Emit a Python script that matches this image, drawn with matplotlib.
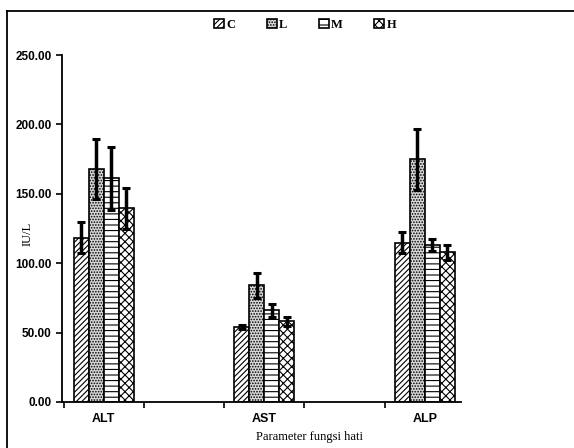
import matplotlib.pyplot as plt
import numpy as np
from matplotlib.lines import Line2D

# dati
parametri = ["ALT", "AST", "ALP"]
gruppi = ["C", "L", "M", "H"]
media_C = [118.4, 53.8, 114.8]
media_L = [167.9, 84.3, 174.8]
media_M = [161.1, 66.0, 113.4]
media_H = [139.5, 58.1, 107.8]
err_C = [11.0, 1.5, 7.7]
err_L = [21.5, 9.0, 22.0]
err_M = [23.0, 4.5, 4.3]
err_H = [15.0, 3.5, 5.3]
y_ticks = [0, 50, 100, 150, 200, 250]

medie = [media_C, media_L, media_M, media_H]
errori = [err_C, err_L, err_M, err_H]
stili = [
    dict(facecolor="white", hatch="//////"),
    dict(facecolor="#d8d8d8", hatch="......"),
    dict(facecolor="white", hatch="---"),
    dict(facecolor="white", hatch="xxxx"),
]

plt.rcParams["hatch.linewidth"] = 0.8

fig = plt.figure(figsize=(5.74, 4.48), dpi=100)
ax = fig.add_axes([0.108, 0.1027, 0.695, 0.7743])

x = np.arange(len(parametri)) * 2.0
width = 0.186
handles = []
for i, (vals, errs, st) in enumerate(zip(medie, errori, stili)):
    pos = x + (i - 1.5) * width
    b = ax.bar(pos, vals, width, edgecolor="black", linewidth=1.2,
               label=gruppi[i], **st)
    ax.errorbar(pos, vals, yerr=errs, fmt="none", ecolor="black",
                elinewidth=2.5, capsize=3, capthick=2.2)
    handles.append(b)

ax.set_ylim(0, 250)
ax.set_xlim(-0.52, 4.45)
ax.set_yticks(y_ticks)
ax.set_yticklabels(["%.2f" % v for v in y_ticks],
                   family="Liberation Sans", fontsize=8.5, fontweight="bold")
ax.set_xticks([-0.5, 0.5, 1.5, 2.5, 3.5])
ax.set_xticklabels([])
ax.tick_params(axis="both", direction="out", length=4, width=1.2)
for i, p in enumerate(parametri):
    ax.text(x[i], -12, p, ha="center", va="center",
            family="Liberation Sans", fontsize=9, fontweight="bold")

for s in ["top", "right"]:
    ax.spines[s].set_visible(False)
for s in ["left", "bottom"]:
    ax.spines[s].set_linewidth(1.3)

fig.text(28 / 574, 1 - 234 / 448, "IU/L", rotation=90, ha="center",
         va="center", family="Liberation Serif", fontsize=9)
fig.text(310 / 574, 1 - 437 / 448, "Parameter fungsi hati", ha="center",
         va="center", family="Liberation Serif", fontsize=9)

# legenda in alto
fig.legend(handles=handles, loc="center", bbox_to_anchor=(305 / 574, 1 - 25 / 448),
           ncol=4, frameon=False, prop={"family": "Liberation Serif", "size": 9,
                                        "weight": "bold"},
           handlelength=0.8, handleheight=0.8, handletextpad=0.2,
           columnspacing=2.5)

# cornice esterna
fig.add_artist(Line2D([7 / 574, 1.0], [1 - 11 / 448] * 2, color="black", lw=1.3))
fig.add_artist(Line2D([7 / 574] * 2, [0, 1 - 11 / 448], color="black", lw=1.3))

fig.savefig("out.png", dpi=100)
